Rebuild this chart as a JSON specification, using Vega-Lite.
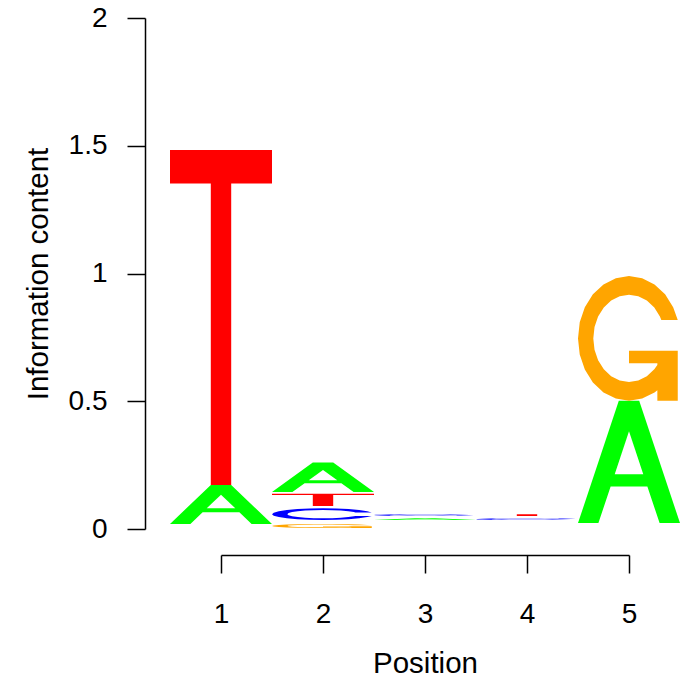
{
  "$schema": "https://vega.github.io/schema/vega-lite/v6.json",
  "width": 510,
  "height": 511,
  "autosize": {"type": "none"},
  "padding": {"left": 170, "top": 18, "right": 6, "bottom": 150},
  "background": "white",
  "config": {
    "view": {"stroke": null},
    "font": "Liberation Sans",
    "axis": {
      "domainColor": "#000000",
      "tickColor": "#000000",
      "labelColor": "#000000",
      "titleColor": "#000000",
      "domainWidth": 1.5,
      "tickWidth": 1.5,
      "tickSize": 18,
      "labelFontSize": 28,
      "titleFontSize": 29.5,
      "labelFont": "Liberation Sans",
      "titleFont": "Liberation Sans",
      "titleFontWeight": "normal",
      "grid": false,
      "labelFlush": false,
      "labelOverlap": false
    }
  },
  "data": {
    "values": [
      {"position": 1, "base": "A", "y0": 0.02, "y1": 0.172},
      {"position": 1, "base": "T", "y0": 0.172, "y1": 1.483},
      {"position": 2, "base": "G", "y0": 0.004, "y1": 0.02},
      {"position": 2, "base": "C", "y0": 0.035, "y1": 0.081},
      {"position": 2, "base": "T", "y0": 0.09, "y1": 0.138},
      {"position": 2, "base": "A", "y0": 0.145, "y1": 0.26},
      {"position": 3, "base": "A", "y0": 0.035, "y1": 0.042},
      {"position": 3, "base": "C", "y0": 0.051, "y1": 0.058},
      {"position": 4, "base": "C", "y0": 0.035, "y1": 0.042},
      {"position": 4, "base": "T", "y0": 0.051, "y1": 0.058},
      {"position": 5, "base": "A", "y0": 0.023, "y1": 0.502},
      {"position": 5, "base": "G", "y0": 0.502, "y1": 0.99}
    ]
  },
  "transform": [
    {
      "lookup": "base",
      "from": {
        "data": {
          "values": [
            {"base": "A",
             "gx": [0, 0.4, 0.6, 1, 0.8, 0.68, 0.32, 0.2],
             "gy": [0, 1, 1, 0, 0, 0.3, 0.3, 0],
             "hx": [0.36, 0.5, 0.64],
             "hy": [0.4, 0.75, 0.4]},
            {"base": "T",
             "gx": [0, 1, 1, 0.6, 0.6, 0.4, 0.4, 0],
             "gy": [1, 1, 0.9, 0.9, 0, 0, 0.9, 0.9]},
            {"base": "C",
             "gx": [0.978, 0.933, 0.854, 0.75, 0.629, 0.5, 0.371, 0.25, 0.146, 0.067, 0.017, 0, 0.017, 0.067, 0.146, 0.25, 0.371, 0.5, 0.629, 0.75, 0.854, 0.933, 0.978,
                    0.817, 0.803, 0.748, 0.675, 0.591, 0.5, 0.409, 0.325, 0.253, 0.197, 0.162, 0.15, 0.162, 0.197, 0.253, 0.325, 0.409, 0.5, 0.591, 0.675, 0.748, 0.803, 0.817],
             "gy": [0.352, 0.25, 0.146, 0.067, 0.017, 0, 0.017, 0.067, 0.146, 0.25, 0.371, 0.5, 0.629, 0.75, 0.854, 0.933, 0.983, 1, 0.983, 0.933, 0.854, 0.75, 0.648,
                    0.648, 0.675, 0.748, 0.803, 0.838, 0.85, 0.838, 0.803, 0.748, 0.675, 0.591, 0.5, 0.409, 0.325, 0.253, 0.197, 0.162, 0.15, 0.162, 0.197, 0.253, 0.325, 0.352]},
            {"base": "G",
             "gx": [0.978, 0.5, 0.5, 0.778, 0.778,
                    0.748, 0.675, 0.591, 0.5, 0.409, 0.325, 0.253, 0.197, 0.162, 0.15, 0.162, 0.197, 0.253, 0.325, 0.409, 0.5, 0.591, 0.675, 0.748, 0.803, 0.817,
                    0.978, 0.933, 0.854, 0.75, 0.629, 0.5, 0.371, 0.25, 0.146, 0.067, 0.017, 0, 0.017, 0.067, 0.146, 0.25, 0.371, 0.5, 0.629, 0.75,
                    0.778, 0.778, 0.978],
             "gy": [0.4, 0.4, 0.3, 0.3, 0.287,
                    0.253, 0.197, 0.162, 0.15, 0.162, 0.197, 0.253, 0.325, 0.409, 0.5, 0.591, 0.675, 0.748, 0.803, 0.838, 0.85, 0.838, 0.803, 0.748, 0.675, 0.648,
                    0.648, 0.75, 0.854, 0.933, 0.983, 1, 0.983, 0.933, 0.854, 0.75, 0.629, 0.5, 0.371, 0.25, 0.146, 0.067, 0.017, 0, 0.017, 0.067,
                    0.084, 0, 0]}
          ]
        },
        "key": "base",
        "fields": ["gx", "gy", "hx", "hy"]
      }
    }
  ],
  "encoding": {
    "x": {
      "field": "px",
      "type": "quantitative",
      "scale": {"domain": [1, 5], "range": [51, 459], "nice": false, "zero": false},
      "axis": {"values": [1, 2, 3, 4, 5], "format": "d", "title": "Position", "offset": 26, "labelPadding": 27, "titlePadding": 21}
    },
    "y": {
      "field": "py",
      "type": "quantitative",
      "scale": {"domain": [0, 2], "nice": false, "zero": false},
      "axis": {"values": [0, 0.5, 1, 1.5, 2], "format": "~g", "title": "Information content", "offset": 25, "labelPadding": 20, "titlePadding": 15}
    }
  },
  "layer": [
    {
      "transform": [
        {"flatten": ["gx", "gy"]},
        {"calculate": "datum.position - 0.5 + datum.gx", "as": "px"},
        {"calculate": "datum.y0 + datum.gy * (datum.y1 - datum.y0)", "as": "py"}
      ],
      "mark": {"type": "line", "filled": true, "strokeWidth": 0},
      "encoding": {
        "color": {
          "field": "base",
          "type": "nominal",
          "scale": {"domain": ["A", "C", "G", "T"], "range": ["#00FF00", "#0000FF", "#FFA500", "#FF0000"]},
          "legend": null
        },
        "detail": {"field": "position", "type": "ordinal"},
        "order": {"value": null}
      }
    },
    {
      "transform": [
        {"filter": "datum.base === 'A'"},
        {"flatten": ["hx", "hy"]},
        {"calculate": "datum.position - 0.5 + datum.hx", "as": "px"},
        {"calculate": "datum.y0 + datum.hy * (datum.y1 - datum.y0)", "as": "py"}
      ],
      "mark": {"type": "line", "filled": true, "strokeWidth": 0, "color": "#FFFFFF"},
      "encoding": {
        "detail": {"field": "position", "type": "ordinal"},
        "order": {"value": null}
      }
    }
  ]
}
